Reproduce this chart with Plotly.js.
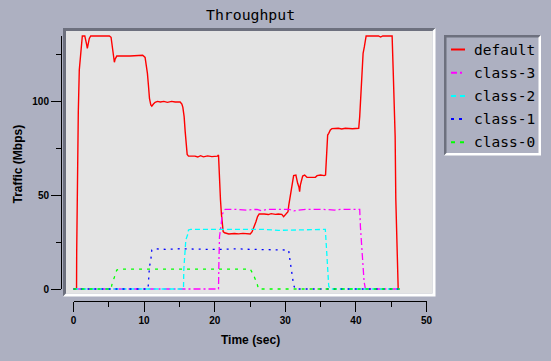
<!DOCTYPE html>
<html><head><meta charset="utf-8">
<script src="https://cdn.plot.ly/plotly-3.0.1.min.js"></script>
<style>html,body{margin:0;padding:0;background:#adb0c1;}#chart{width:551px;height:361px;}</style>
</head><body><div id="chart"></div>
<script>
// ---------- data ----------
const seriesNames = ['default', 'class-3', 'class-2', 'class-1', 'class-0'];

const defaultTime = [0,0.43,0.45,0.54,0.68,0.82,1.02,1.1,1.25,1.6,1.73,1.87,1.96,2.1,2.24,2.44,5.08,5.32,5.42,5.56,5.65,5.79,5.89,6.13,8.0,8.5,8.96,9.3,9.8,10.14,10.28,10.47,10.61,10.76,10.95,11.09,11.32,11.56,11.89,12.3,12.8,13.3,13.9,14.4,15.1,15.35,15.49,15.67,15.82,15.96,16.1,16.29,17.2,17.6,18.0,18.4,19.0,19.6,20.4,20.54,20.68,20.82,20.96,21.1,21.2,21.4,22.0,22.8,23.4,24.0,25.04,25.3,25.6,25.84,26.07,26.3,27.0,27.6,28.0,28.6,29.0,29.5,29.76,30.0,30.2,30.38,30.5,30.7,30.85,31.04,31.18,31.5,31.62,31.75,31.94,32.03,32.13,32.25,32.46,32.74,33.07,34.26,34.5,35.0,35.5,35.7,35.87,36.0,36.15,36.38,36.6,37.5,38.0,38.5,39.5,40.07,40.4,40.54,40.74,40.88,41.02,41.2,41.35,41.45,43.2,43.5,43.8,45.13,45.28,45.42,45.56,45.65,45.84,45.99,46.2];
const defaultTraffic = [0,0,19,56,94,116.5,124,130,134.6,134.6,132.8,129.8,128,130.7,133.3,134.6,134.6,133.9,131,127,122.7,120.6,122.2,123.9,123.9,123.9,124.3,123.9,124.3,123.2,120.4,114.7,108.5,101.4,97.9,97.3,98.4,99.3,99.8,99.5,99.8,99.3,99.8,99.5,99.5,98.4,96.6,91.7,83.7,76.1,71.6,70.7,70.7,70.2,70.9,70.3,70.8,70.4,70.7,71.3,57,47.3,39.4,34,30.5,29.9,29.3,29.5,29.3,29.6,29.3,30.5,33,35.8,38.5,39.9,39.9,39.6,40.1,39.7,39.9,39.7,38.5,39.7,40.5,41.1,44.7,48.2,52.7,57.1,60.3,60.6,58,56.2,54.1,51.8,55.3,57,60.1,60.6,59.4,59.4,60.3,60.6,60.3,60.6,72.2,81.9,82.8,84.6,85.3,85.5,85.1,85.5,85.2,85.5,85.5,91.7,105,116.5,125.4,128.9,133.3,134.6,134.6,134.0,134.6,134.6,116.5,103.2,81,48.2,16,0,0];

const class3Time = [0,20.54,20.6,20.68,20.88,21.06,21.3,21.49,23,24.5,26,26.6,27.5,28,29.5,30.5,31.2,32,33,35,37,38,40.54,40.64,40.78,40.97,41.16,41.35,46.2];
const class3Traffic = [0,0,15.4,27.8,33.1,39.4,41.8,42.4,42.4,42.0,42.4,41.6,42.4,42.4,42.0,42.4,41.6,42.0,42.4,42.4,42.0,42.4,42.4,33.1,24.3,10.1,3.9,0,0];

const class2Time = [0,15.58,15.62,15.72,15.91,16.15,16.29,16.6,18,19,21,23,25,27,29,31,33,35,35.67,35.82,36.0,36.15,36.38,46.2];
const class2Traffic = [0,0,10.1,17.2,26.1,28.7,31.4,31.7,31.7,31.4,31.7,31.7,31.4,31.7,31.2,31.4,31.4,31.7,31.7,22.5,10.1,1.6,0,0];

const class1Time = [0,10.55,10.61,10.76,10.95,11.09,11.32,13,15,17,19,21,23,25,27,29,30.47,30.7,30.95,31.18,31.4,46.2];
const class1Traffic = [0,0,3,11.9,15.4,20.7,21.4,21.1,21.4,21.1,21.1,21.1,21.4,21.1,21.1,20.7,20.7,14.4,8,2.1,0,0];

const class0Time = [0,5.35,5.42,5.65,5.89,6.13,6.6,8,10,12,14,16,18,20,22,24,25.04,25.5,25.99,26.2,46.2];
const class0Traffic = [0,0,2.1,4.8,8.3,10.1,10.6,10.6,10.4,10.6,10.6,10.4,10.6,10.6,10.4,10.6,10.6,7.4,3,0,0];

const seriesTimes = [defaultTime, class3Time, class2Time, class1Time, class0Time];
const seriesValues = [defaultTraffic, class3Traffic, class2Traffic, class1Traffic, class0Traffic];

// ---------- styles ----------
const seriesColors = ['#ff0000', '#ff00ff', '#00ffff', '#0000ff', '#00ff00'];
const seriesDash = ['solid', '7px,3px,2px,3px', '5px,3px', '2px,5px', '3px,5px'];
const legendDash = ['solid', '6px,3px,2px,3px', '5px,4px', '3px,5px', '4px,5px'];

const W = 551, H = 361;
const fx = v => v / W;
const fy = v => 1 - v / H;
// pixel calibration of the axes
const X0 = 73.5, SX = 7.06, Y0 = 289, SY = 1.88;
const inner = {l: 66, r: 432.5, t: 31, b: 293.5};
const yAxisTop = 134.6;

const traces = seriesNames.map((name, i) => ({
  type: 'scatter', mode: 'lines', name: name,
  x: seriesTimes[i], y: seriesValues[i],
  line: {color: seriesColors[i], width: i === 0 ? 1.4 : 1.3, dash: seriesDash[i]},
  hoverinfo: 'skip', showlegend: false
}));
// invisible helper so the decorative axis pair is drawn
traces.push({type: 'scatter', mode: 'markers', x: [defaultTime[0]], y: [defaultTraffic[0]],
  xaxis: 'x2', yaxis: 'y2', marker: {opacity: 0}, hoverinfo: 'skip', showlegend: false});

const tickFont = {family: 'Liberation Sans, Arial, sans-serif', size: 10, weight: 'bold', color: '#000'};
const P = pts => 'M' + pts.map(p => fx(p[0]) + ',' + fy(p[1])).join('L') + 'Z';

const shapes = [
  // plot frame bevel
  {type: 'path', xref: 'paper', yref: 'paper', layer: 'below', line: {width: 0}, fillcolor: '#6d707e',
   path: P([[63, 296.5], [63, 28], [435.5, 28], [432.5, 31], [66, 31], [66, 293.5]])},
  {type: 'path', xref: 'paper', yref: 'paper', layer: 'below', line: {width: 0}, fillcolor: '#ffffff',
   path: P([[435.5, 28], [435.5, 296.5], [63, 296.5], [66, 293.5], [432.5, 293.5], [432.5, 31]])},
  {type: 'rect', xref: 'paper', yref: 'paper', layer: 'below', line: {width: 0}, fillcolor: '#e4e4e4',
   x0: fx(inner.l), x1: fx(inner.r), y0: fy(inner.b), y1: fy(inner.t)},
  // legend box bevel
  {type: 'path', xref: 'paper', yref: 'paper', layer: 'below', line: {width: 0}, fillcolor: '#6d707e',
   path: P([[444, 155.5], [444, 35], [541, 35], [538.5, 37.5], [446.5, 37.5], [446.5, 153]])},
  {type: 'path', xref: 'paper', yref: 'paper', layer: 'below', line: {width: 0}, fillcolor: '#ffffff',
   path: P([[541, 35], [541, 155.5], [444, 155.5], [446.5, 153], [538.5, 153], [538.5, 37.5]])}
];
const annotations = [
  {text: 'Throughput', xref: 'paper', yref: 'paper', x: fx(250), y: fy(14.5), showarrow: false,
   xanchor: 'center', yanchor: 'middle', font: {family: 'DejaVu Sans Mono, monospace', size: 14.8, color: '#000'}},
  {text: 'Time (sec)', xref: 'paper', yref: 'paper', x: fx(250), y: fy(339.5), showarrow: false,
   xanchor: 'center', yanchor: 'middle', font: {family: 'Liberation Sans, Arial, sans-serif', size: 12, weight: 'bold', color: '#000'}},
  {text: 'Traffic (Mbps)', xref: 'paper', yref: 'paper', x: fx(17.5), y: fy(164), showarrow: false, textangle: -90,
   xanchor: 'center', yanchor: 'middle', font: {family: 'Liberation Sans, Arial, sans-serif', size: 12, weight: 'bold', color: '#000'}}
];
// custom legend
seriesNames.forEach((name, i) => {
  const yy = 49.5 + 23.2 * i;
  shapes.push({type: 'line', xref: 'paper', yref: 'paper', x0: fx(451), x1: fx(465), y0: fy(yy), y1: fy(yy),
    line: {color: seriesColors[i], width: 2, dash: legendDash[i]}});
  annotations.push({text: name, xref: 'paper', yref: 'paper', x: fx(471.5), y: fy(yy), showarrow: false,
    xanchor: 'left', yanchor: 'middle', font: {family: 'DejaVu Sans Mono, monospace', size: 14.5, color: '#000'}});
});

const layout = {
  width: W, height: H, margin: {l: 0, r: 0, t: 0, b: 0, pad: 0},
  paper_bgcolor: '#adb0c1', plot_bgcolor: 'rgba(0,0,0,0)', showlegend: false,
  xaxis: {domain: [fx(inner.l), fx(inner.r)], range: [(inner.l - X0) / SX, (inner.r - X0) / SX],
          visible: false, fixedrange: true},
  yaxis: {domain: [fy(inner.b), fy(inner.t)], range: [(Y0 - inner.b) / SY, (Y0 - inner.t) / SY],
          visible: false, fixedrange: true},
  xaxis2: {domain: [fx(X0), fx(X0 + 50 * SX)], range: [0, 50], anchor: 'free', position: fy(301),
           showline: true, linecolor: '#000', linewidth: 1, ticks: 'outside', ticklen: 10, tickwidth: 1, tickcolor: '#000',
           tick0: 0, dtick: 10, minor: {dtick: 5, ticks: 'outside', ticklen: 5, tickwidth: 1, tickcolor: '#000', showgrid: false},
           showgrid: false, zeroline: false, tickfont: tickFont, fixedrange: true, automargin: false},
  yaxis2: {domain: [fy(Y0), fy(Y0 - yAxisTop * SY)], range: [0, yAxisTop], anchor: 'free', position: fx(61), side: 'left',
           showline: true, linecolor: '#000', linewidth: 1, ticks: 'outside', ticklen: 10, tickwidth: 1, tickcolor: '#000',
           tick0: 0, dtick: 50, minor: {dtick: 25, ticks: 'outside', ticklen: 5, tickwidth: 1, tickcolor: '#000', showgrid: false},
           showgrid: false, zeroline: false, tickfont: tickFont, fixedrange: true, automargin: false},
  shapes: shapes, annotations: annotations
};
Plotly.newPlot('chart', traces, layout, {displayModeBar: false, staticPlot: true});
</script></body></html>
